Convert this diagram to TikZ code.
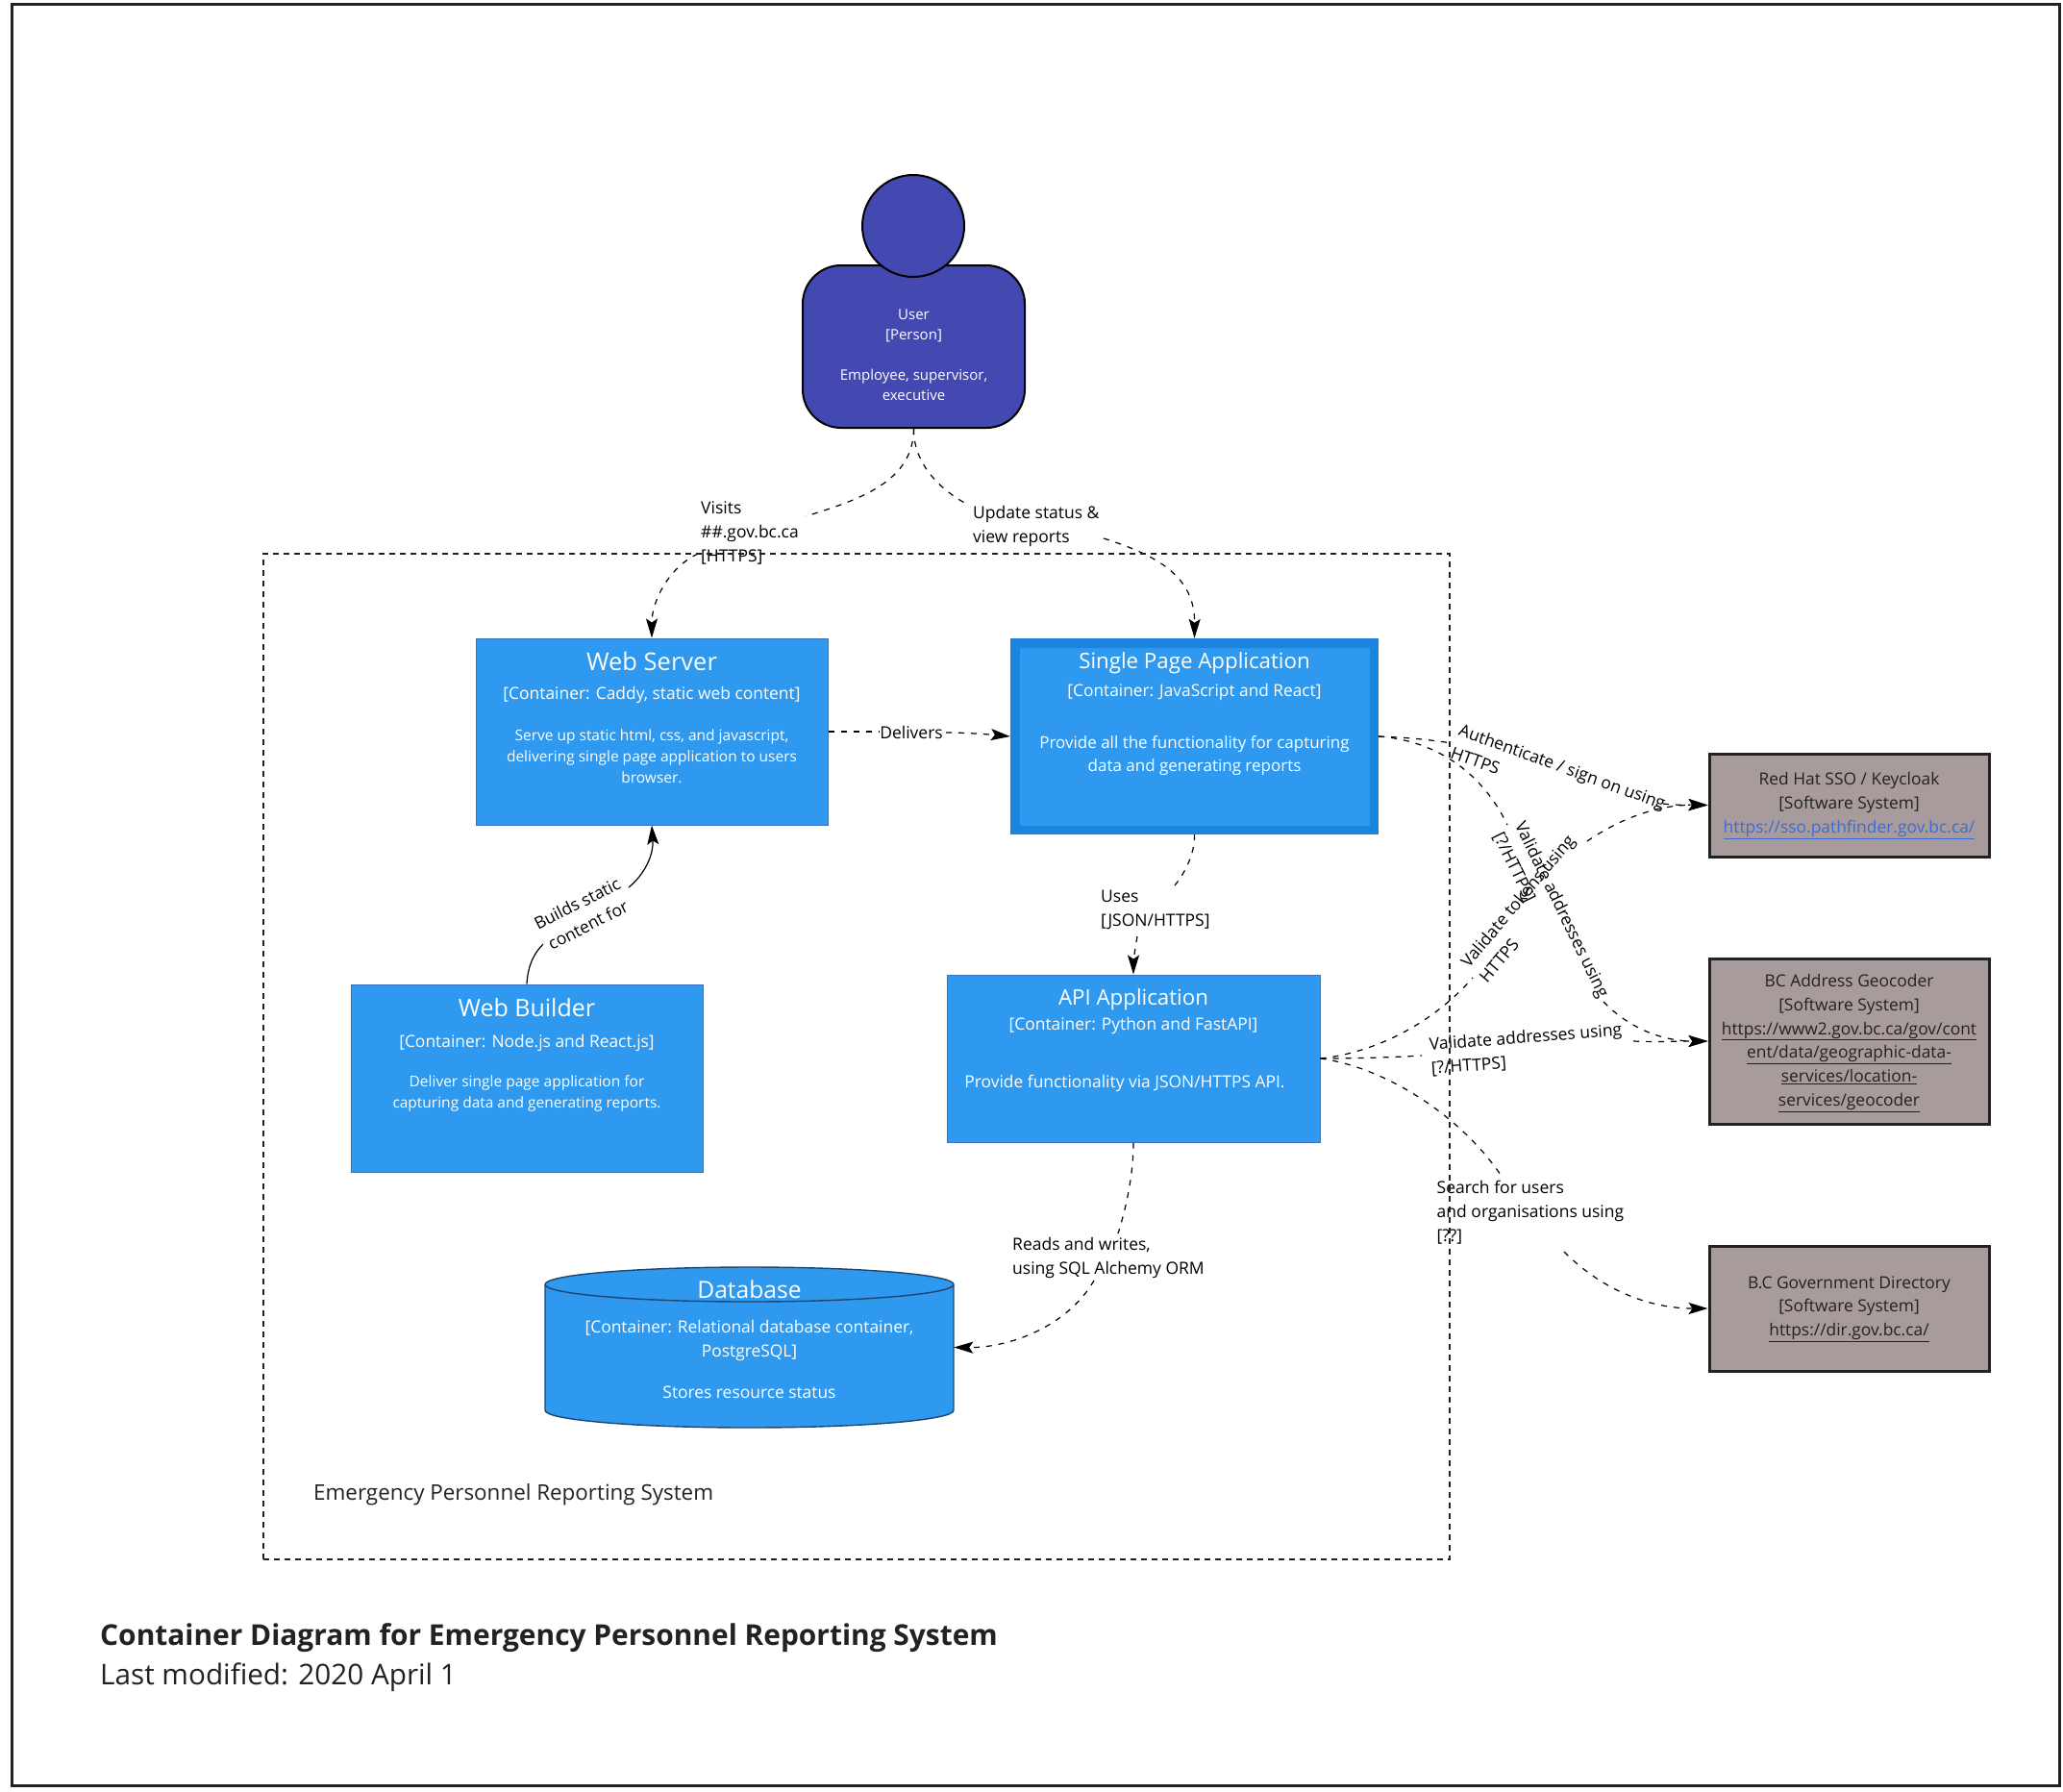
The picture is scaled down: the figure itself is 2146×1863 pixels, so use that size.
\documentclass[tikz,border=0pt]{standalone}
\usepackage{fontspec}
\setmainfont{Open Sans}
\usetikzlibrary{arrows.meta,shapes.geometric,positioning}
\definecolor{cblue}{HTML}{2E99EF}
\definecolor{cedge}{HTML}{3F6FC4}
\definecolor{dbedge}{HTML}{1F4670}
\definecolor{spaouter}{HTML}{1A84DE}
\definecolor{person}{HTML}{4349B0}
\definecolor{ext}{HTML}{A89B9B}
\definecolor{ink}{HTML}{222222}
\definecolor{linkblue}{HTML}{3B6BDB}
\newcommand{\fs}[2]{\fontsize{#1}{#2}\selectfont}
\tikzset{
  x=1pt,y=-1pt,
  box/.style={draw=cedge,line width=1pt,fill=cblue,text=white,inner sep=0pt,align=center,font=\fs{15.5}{22}},
  extbox/.style={draw=ink,line width=3pt,fill=ext,text=ink,inner sep=0pt,align=center,font=\fs{17.4}{24.8}},
  rel/.style={line width=1.2pt,dash pattern=on 6pt off 7pt,black},
  tipped/.style={-{Stealth[length=20pt,width=12pt,inset=4pt]}},
  relend/.style={rel,tipped},
  solidend/.style={line width=1.2pt,black,tipped},
  lab/.style={inner sep=0pt,align=left,font=\fs{17.5}{25},text=black},
}
\begin{document}
\begin{tikzpicture}
\useasboundingbox (0,0) rectangle (2146,1863);
\fill[white] (0,0) rectangle (2146,1863);
\node[draw=ink,line width=3pt,minimum width=2130pt,minimum height=1852.5pt,inner sep=0pt] (frame) at (1077.75,930.75) {};

% person
\node[draw=black,line width=2pt,fill=person,rounded corners=40pt,minimum width=231pt,minimum height=169pt,inner sep=0pt,text=white,align=center,font=\fs{15}{21}] (user) at (950.5,360.5) {\mbox{}\\[8pt]User\\{[Person]}\\\mbox{}\\Employee, supervisor,\\executive};
\node[circle,draw=black,line width=2pt,fill=person,minimum size=106pt,inner sep=0pt] (head) at (950,235) {};

% containers
\node[box,minimum width=366pt,minimum height=194pt] (web) at (678,761) {{\fs{25.5}{24}Web Server}\\[8pt]{\fs{17.4}{24}[Container: Caddy, static web content]}\\[21pt]Serve up static html, css, and javascript,\\delivering single page application to users\\browser.\\[8pt]\mbox{}};

\node[draw=none,fill=spaouter,minimum width=383pt,minimum height=204pt,inner sep=0pt] (spa) at (1242.5,766) {};
\node[fill=cblue,inner sep=0pt,text=white,align=center,font=\fs{17}{24},minimum width=364pt,minimum height=185pt] (spainner) at (spa.center) {{\fs{22.3}{24}Single Page Application}\\[5pt]{\fs{17.3}{24}[Container: JavaScript and React]}\\[30pt]Provide all the functionality for capturing\\data and generating reports\\[27pt]\mbox{}};

\node[box,minimum width=366pt,minimum height=195pt] (builder) at (548,1121.5) {{\fs{25}{24}Web Builder}\\[10pt]{\fs{17.4}{24}[Container: Node.js and React.js]}\\[19pt]Deliver single page application for\\capturing data and generating reports.\\[31pt]\mbox{}};

\node[box,font=\fs{17.4}{24},minimum width=388pt,minimum height=174pt] (api) at (1179,1101) {{\fs{22.3}{24}API Application}\\[2.5pt][Container: Python and FastAPI]\\[35.5pt]Provide functionality via JSON/HTTPS API.\mbox{\hspace{18pt}}\mbox{}\\[18pt]\mbox{}};

% database drum, with its text node on top
\filldraw[fill=cblue,draw=dbedge,line width=1.4pt] (567,1336) -- (567,1467) .. controls (567,1477) and (662,1485) .. (779.5,1485) .. controls (897,1485) and (992,1477) .. (992,1467) -- (992,1336) .. controls (992,1326) and (897,1318) .. (779.5,1318) .. controls (662,1318) and (567,1326) .. (567,1336) -- cycle;
\draw[dbedge,line width=1.4pt] (567,1336) .. controls (567,1346) and (662,1354) .. (779.5,1354) .. controls (897,1354) and (992,1346) .. (992,1336);
\node[text=white,inner sep=0pt,align=center,font=\fs{17.4}{25},minimum width=425pt,minimum height=167pt] (db) at (779.5,1401.5) {{\fs{24.6}{24}Database}\\[11pt][Container: Relational database container,\\PostgreSQL]\\[18pt]Stores resource status\\[-7.6pt]\mbox{}};

% external systems
\node[extbox,minimum width=291pt,minimum height=107pt] (sso) at (1923.5,837.5) {Red Hat SSO / Keycloak\\{[Software System]}\\\textcolor{linkblue}{\underline{https://sso.pathfinder.gov.bc.ca/}}\\[-20pt]\mbox{}};
\node[extbox,minimum width=291pt,minimum height=172pt] (geo) at (1923.5,1083) {\mbox{}\\[-7.8pt]BC Address Geocoder\\{[Software System]}\\\underline{https://www2.gov.bc.ca/gov/cont}\\\underline{ent/data/geographic-data-}\\\underline{services/location-}\\\underline{services/geocoder}};
\node[extbox,minimum width=291pt,minimum height=130pt] (dir) at (1923.5,1361) {\mbox{}\\[-10.8pt]B.C Government Directory\\{[Software System]}\\\underline{https://dir.gov.bc.ca/}};

% connector way-points at the label gaps
\coordinate (a1) at (838,537); \coordinate (a2) at (726,576);
\coordinate (b1) at (1007,525); \coordinate (b2) at (1148,560);
\coordinate (c1) at (914,761); \coordinate (c2) at (984,762);
\coordinate (d1) at (565,982); \coordinate (d2) at (654,923);
\coordinate (e1) at (1222,921); \coordinate (e2) at (1183,974);
\coordinate (f1) at (1163,1283); \coordinate (f2) at (1138,1332);
\coordinate (g1) at (1510,773); \coordinate (g2) at (1730,836);
\coordinate (h1) at (1568,858); \coordinate (h2) at (1668,1042);
\coordinate (i1) at (1532,1017); \coordinate (i2) at (1651,875);
\coordinate (j1) at (1479,1098); \coordinate (j2) at (1699,1083);
\coordinate (k1) at (1563,1225); \coordinate (k2) at (1627,1302);

% connectors
\draw[rel] (user.south) .. controls (950,500) and (897,519) .. (a1);
\draw[relend] (a2) .. controls (696,590) and (678,625) .. (web.north);
\draw[rel] (user.south) .. controls (950,480) and (975,508) .. (b1);
\draw[relend] (b2) .. controls (1205,578) and (1243,600) .. (spa.north);
\draw[rel] (web.east) -- (c1);
\draw[relend] (c2) .. controls (1005,762) and (1030,764) .. (spa.west);
\draw[line width=1.2pt] (builder.north) .. controls (549,1005) and (555,992) .. (d1);
\draw[solidend] (d2) .. controls (670,910) and (680,890) .. (web.south);
\draw[rel] (spa.south) .. controls (1243,885) and (1235,905) .. (e1);
\draw[relend] (e2) .. controls (1181,985) and (1179,1000) .. (api.north);
\draw[rel] (api.south) .. controls (1179,1220) and (1172,1255) .. (f1);
\draw[relend] (f2) .. controls (1110,1380) and (1050,1402) .. (db.east);
\draw[rel] (spa.east) .. controls (1460,767) and (1485,769) .. (g1);
\draw[relend] (g2) .. controls (1745,838) and (1760,837) .. (sso.west);
\draw[rel] (spa.east) .. controls (1490,770) and (1540,800) .. (h1);
\draw[relend] (h2) .. controls (1695,1070) and (1730,1083) .. (geo.west);
\draw[rel] (api.east) .. controls (1430,1095) and (1490,1065) .. (i1);
\draw[relend] (i2) .. controls (1680,855) and (1720,837) .. (sso.west);
\draw[rel] (api.east) .. controls (1410,1101) and (1445,1100) .. (j1);
\draw[relend] (j2) .. controls (1725,1084) and (1750,1083) .. (geo.west);
\draw[rel] (api.east) .. controls (1440,1110) and (1520,1160) .. (k1);
\draw[relend] (k2) .. controls (1670,1345) and (1720,1361) .. (dir.west);

% labels
\node[lab,anchor=west] (la) at (729,554.5) {Visits\\\#\#.gov.bc.ca\\{[HTTPS]}};
\node[lab,anchor=west] (lb) at (1012,547) {Update status \&\\view reports};
\node[lab] (lc) at (948,762) {Delivers};
\node[lab,align=center,rotate=27] (ld) at (606,951) {Builds static\\content for};
\node[lab,anchor=west] (le) at (1145,946) {Uses\\{[JSON/HTTPS]}};
\node[lab,anchor=west] (lf) at (1053,1308) {Reads and writes,\\using SQL Alchemy ORM};
\node[lab,rotate=-20] (lg) at (1621,809) {Authenticate / sign on using\\HTTPS};
\node[lab,rotate=-64] (lh) at (1613,952) {Validate addresses using\\{[?/HTTPS]}};
\node[lab,rotate=50] (li) at (1588,945) {Validate tokens using\\HTTPS};
\node[lab,rotate=4.3] (lj) at (1588,1092) {Validate addresses using\\{[?/HTTPS]}};
\node[lab,anchor=west] (lk) at (1494.5,1261.5) {Search for users\\and organisations using\\{[??]}};

% system boundary
\node[draw=ink,line width=1.1pt,dash pattern=on 6pt off 5pt,minimum width=1234pt,minimum height=1046pt,inner sep=0pt] (boundary) at (891,1099) {};
\node[inner sep=0pt,anchor=west,font=\fs{22.4}{28},text=ink] (bname) at (326,1555) {Emergency Personnel Reporting System};

% caption
\node[inner sep=0pt,anchor=west,font=\fs{29.9}{38}\bfseries,text=ink] (title) at (104,1704) {Container Diagram for Emergency Personnel Reporting System};
\node[inner sep=0pt,anchor=west,font=\fs{29.7}{36},text=ink] (sub) at (104,1745) {Last modified: 2020 April 1};
\end{tikzpicture}
\end{document}
